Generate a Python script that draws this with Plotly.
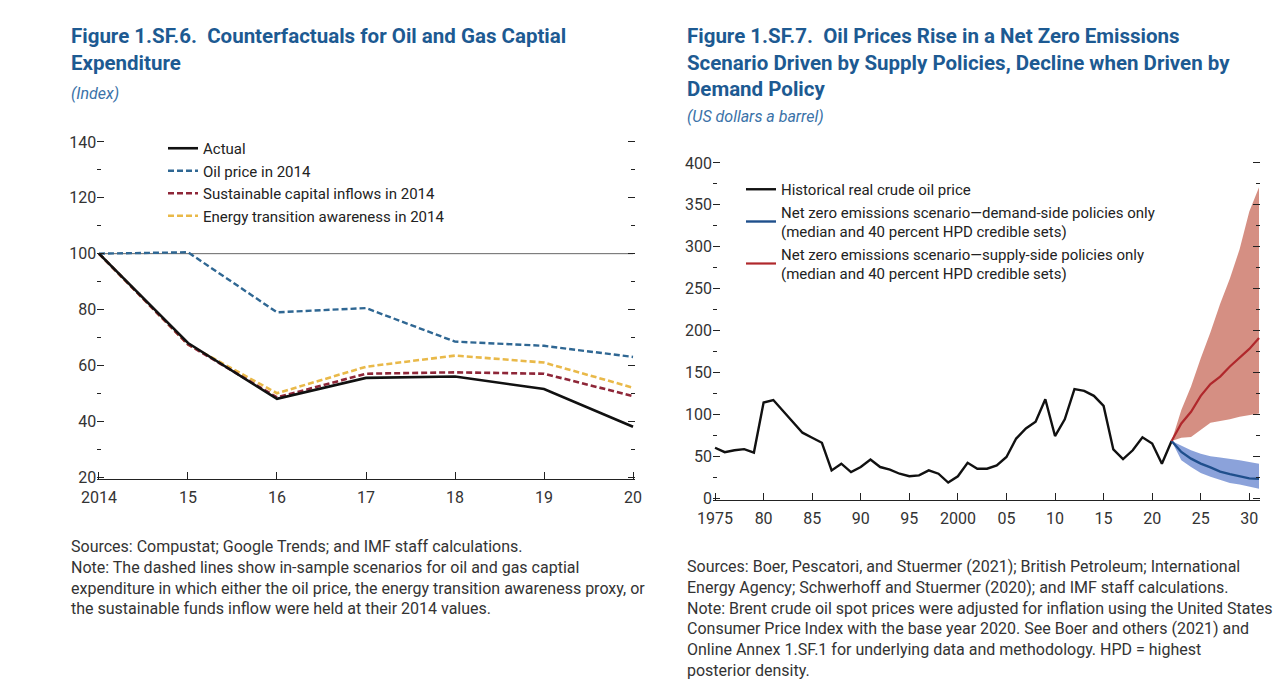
import plotly.graph_objects as go

# ---------------- Data: Figure 1.SF.6 ----------------
YEARS_L = [2014, 2015, 2016, 2017, 2018, 2019, 2020]
ACTUAL = [100, 68, 48, 55.5, 56, 51.5, 38]
OIL_2014 = [100, 100.5, 79, 80.5, 68.5, 67, 63]
SUST_2014 = [100, 67.5, 48.5, 57, 57.5, 57, 49]
ENERGY_2014 = [100, 67.5, 50, 59.5, 63.5, 61, 52]
BASE_INDEX = [100, 100]
BASE_YEARS = [2014, 2020]
L_XTICKS = [2014, 2015, 2016, 2017, 2018, 2019, 2020]
L_XTEXT = ["2014", "15", "16", "17", "18", "19", "20"]

# ---------------- Data: Figure 1.SF.7 ----------------
HIST_YEARS = list(range(1975, 2023))
HIST_PRICE = [60, 54.7, 57, 58.4, 54.3, 114, 117, 104, 90, 78,
              72, 66, 33, 41, 31, 37, 46, 37, 34, 29,
              26, 27, 33, 29, 18.5, 26, 42, 35, 35, 39,
              49, 71, 83, 91, 118, 74, 94, 130, 128, 122,
              110, 58, 46.5, 57, 72.5, 65, 41, 68]
FC_YEARS = list(range(2022, 2032))
SUPPLY_MED = [68, 89, 103, 122, 136, 145, 157, 167, 178, 191]
SUPPLY_HI = [68, 105, 133, 167, 198, 232, 262, 297, 342, 371]
SUPPLY_LO = [68, 72, 73, 82, 90, 92, 94, 97, 99, 101]
DEMAND_MED = [68, 55, 47, 41, 36.5, 31.5, 28.5, 26, 23.5, 23]
DEMAND_HI = [68, 62, 57, 53, 50, 48.5, 47, 45, 43, 41]
DEMAND_LO = [68, 45, 37, 30, 25.5, 21.5, 18, 16, 13.5, 11]
R_XTICKS = list(range(1975, 2031, 5))
R_XTEXT = ["1975", "80", "85", "90", "95", "2000", "05", "10", "15", "20", "25", "30"]

# ---------------- Styling ----------------
W, H = 1284, 685
FONT = "Roboto, sans-serif"
TITLE_BLUE = "#1d5a92"
SUB_BLUE = "#3a72a8"
TEXT = "#333333"
LEG_SIZE = 15


def px_x(x):
    return x / W


def px_y(y):
    return 1 - y / H


fig = go.Figure()

# Left chart reference line and traces
fig.add_trace(go.Scatter(x=BASE_YEARS, y=BASE_INDEX, mode="lines", showlegend=False,
                         line=dict(color="#666666", width=1), hoverinfo="skip",
                         xaxis="x", yaxis="y"))
fig.add_trace(go.Scatter(x=YEARS_L, y=ENERGY_2014, mode="lines",
                         name="Energy transition awareness in 2014",
                         line=dict(color="#e9b949", width=2.6, dash="6px,3px"),
                         xaxis="x", yaxis="y", legend="legend", legendrank=4))
fig.add_trace(go.Scatter(x=YEARS_L, y=SUST_2014, mode="lines",
                         name="Sustainable capital inflows in 2014",
                         line=dict(color="#8e2638", width=2.6, dash="6px,3px"),
                         xaxis="x", yaxis="y", legend="legend", legendrank=3))
fig.add_trace(go.Scatter(x=YEARS_L, y=OIL_2014, mode="lines",
                         name="Oil price in 2014",
                         line=dict(color="#2f6793", width=2.4, dash="6px,3px"),
                         xaxis="x", yaxis="y", legend="legend", legendrank=2))
fig.add_trace(go.Scatter(x=YEARS_L, y=ACTUAL, mode="lines",
                         name="Actual",
                         line=dict(color="#111111", width=2.6),
                         xaxis="x", yaxis="y", legend="legend", legendrank=1))

# Right chart: bands
fig.add_trace(go.Scatter(x=FC_YEARS, y=SUPPLY_HI, mode="lines", line=dict(width=0, color="#d4887c"),
                         showlegend=False, hoverinfo="skip", xaxis="x2", yaxis="y2"))
fig.add_trace(go.Scatter(x=FC_YEARS, y=SUPPLY_LO, mode="lines", line=dict(width=0, color="#d4887c"),
                         fill="tonexty", fillcolor="rgba(207,128,114,0.88)",
                         showlegend=False, hoverinfo="skip", xaxis="x2", yaxis="y2"))
fig.add_trace(go.Scatter(x=FC_YEARS, y=DEMAND_HI, mode="lines", line=dict(width=0, color="#8aa2da"),
                         showlegend=False, hoverinfo="skip", xaxis="x2", yaxis="y2"))
fig.add_trace(go.Scatter(x=FC_YEARS, y=DEMAND_LO, mode="lines", line=dict(width=0, color="#8aa2da"),
                         fill="tonexty", fillcolor="rgba(126,152,214,0.9)",
                         showlegend=False, hoverinfo="skip", xaxis="x2", yaxis="y2"))
fig.add_trace(go.Scatter(x=HIST_YEARS, y=HIST_PRICE, mode="lines",
                         name="Historical real crude oil price",
                         line=dict(color="#111111", width=2.4),
                         xaxis="x2", yaxis="y2", legend="legend2", legendrank=1))
fig.add_trace(go.Scatter(x=FC_YEARS, y=DEMAND_MED, mode="lines",
                         name="Net zero emissions scenario\u2014demand-side policies only<br>(median and 40 percent HPD credible sets)",
                         line=dict(color="#1f4f8c", width=2.4),
                         xaxis="x2", yaxis="y2", legend="legend2", legendrank=2))
fig.add_trace(go.Scatter(x=FC_YEARS, y=SUPPLY_MED, mode="lines",
                         name="Net zero emissions scenario\u2014supply-side policies only<br>(median and 40 percent HPD credible sets)",
                         line=dict(color="#b0282c", width=2.2),
                         xaxis="x2", yaxis="y2", legend="legend2", legendrank=3))

yaxis_common = dict(
    showgrid=False, zeroline=False, showline=False, automargin=False,
    ticks="inside", ticklen=7, tickcolor="#222", tickwidth=1,
    mirror="ticks",
    tickfont=dict(family=FONT, size=16, color=TEXT),
)
xaxis_common = dict(
    showgrid=False, zeroline=False, showline=True, linecolor="#222", linewidth=1,
    automargin=False,
    ticks="inside", ticklen=7, tickcolor="#222", tickwidth=1,
    tickfont=dict(family=FONT, size=16, color=TEXT),
    ticklabelstandoff=4,
)

fig.update_layout(
    width=W, height=H, autosize=False,
    margin=dict(l=0, r=0, t=0, b=0, pad=0, autoexpand=False),
    paper_bgcolor="white", plot_bgcolor="white",
    font=dict(family=FONT, size=16, color=TEXT),
    xaxis=dict(domain=[px_x(97.2), px_x(634.8)], range=[2013.98, 2020.02], anchor="y",
               tickvals=L_XTICKS, ticktext=L_XTEXT, **xaxis_common),
    yaxis=dict(domain=[px_y(478.7), px_y(140.3)], range=[19.4, 140.6], anchor="x",
               tickvals=[20, 40, 60, 80, 100, 120, 140],
               minor=dict(tickvals=[30, 50, 70, 90, 110, 130], ticks="inside", ticklen=4, tickcolor="#222"),
               **yaxis_common),
    xaxis2=dict(domain=[px_x(713.1), px_x(1260)], range=[1974.8, 2031.1], anchor="y2",
                tickvals=R_XTICKS, ticktext=R_XTEXT, **xaxis_common),
    yaxis2=dict(domain=[px_y(499.7), px_y(161.3)], range=[-2, 402], anchor="x2",
                tickvals=[0, 50, 100, 150, 200, 250, 300, 350, 400],
                minor=dict(tickvals=[25, 75, 125, 175, 225, 275, 325, 375], ticks="inside", ticklen=4, tickcolor="#222"),
                **yaxis_common),
    legend=dict(x=px_x(163), y=px_y(132), xanchor="left", yanchor="top", traceorder="normal",
                bgcolor="rgba(0,0,0,0)", font=dict(family=FONT, size=LEG_SIZE, color="#222"),
                tracegroupgap=0, itemwidth=30),
    legend2=dict(x=px_x(741), y=px_y(173), xanchor="left", yanchor="top", traceorder="normal",
                 bgcolor="rgba(0,0,0,0)", font=dict(family=FONT, size=LEG_SIZE, color="#222"),
                 tracegroupgap=0, itemwidth=30),
)

annotations = [
    dict(text="<b>Figure 1.SF.6.  Counterfactuals for Oil and Gas Captial<br>Expenditure</b>",
         x=px_x(69), y=px_y(22), font=dict(family=FONT, size=20.5, color=TITLE_BLUE)),
    dict(text="<i>(Index)</i>", x=px_x(69), y=px_y(82),
         font=dict(family=FONT, size=16, color=SUB_BLUE)),
    dict(text="<b>Figure 1.SF.7.  Oil Prices Rise in a Net Zero Emissions<br>"
              "Scenario Driven by Supply Policies, Decline when Driven by<br>Demand Policy</b>",
         x=px_x(685), y=px_y(22), font=dict(family=FONT, size=20.5, color=TITLE_BLUE)),
    dict(text="<i>(US dollars a barrel)</i>", x=px_x(685), y=px_y(105),
         font=dict(family=FONT, size=16, color=SUB_BLUE)),
    dict(text="Sources: Compustat; Google Trends; and IMF staff calculations.<br>"
              "Note: The dashed lines show in-sample scenarios for oil and gas captial<br>"
              "expenditure in which either the oil price, the energy transition awareness proxy, or<br>"
              "the sustainable funds inflow were held at their 2014 values.",
         x=px_x(69), y=px_y(535), font=dict(family=FONT, size=16, color=TEXT)),
    dict(text="Sources: Boer, Pescatori, and Stuermer (2021); British Petroleum; International<br>"
              "Energy Agency; Schwerhoff and Stuermer (2020); and IMF staff calculations.<br>"
              "Note: Brent crude oil spot prices were adjusted for inflation using the United States<br>"
              "Consumer Price Index with the base year 2020. See Boer and others (2021) and<br>"
              "Online Annex 1.SF.1 for underlying data and methodology. HPD = highest<br>"
              "posterior density.",
         x=px_x(685), y=px_y(555), font=dict(family=FONT, size=16, color=TEXT)),
]
for a in annotations:
    fig.add_annotation(xref="paper", yref="paper", xanchor="left", yanchor="top",
                       align="left", showarrow=False, **a)

fig.write_html(
    "out.html",
    config={"displayModeBar": False},
    post_script="document.documentElement.style.margin='0';document.body.style.margin='0';"
                "document.documentElement.style.overflow='hidden';document.body.style.overflow='hidden';",
)
